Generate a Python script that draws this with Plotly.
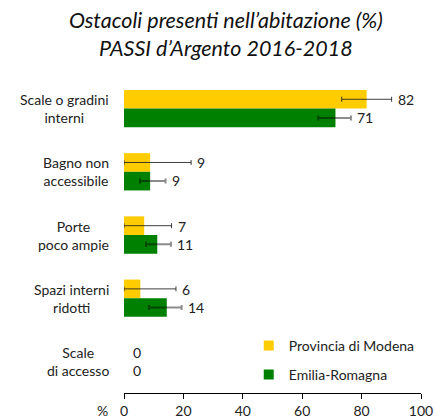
import plotly.graph_objects as go

categories = ["Scale o gradini<br>interni", "Bagno non<br>accessibile", "Porte<br>poco ampie",
              "Spazi interni<br>ridotti", "Scale<br>di accesso"]
series_names = ["Provincia di Modena", "Emilia-Romagna"]

modena_values = [81.7, 8.8, 6.8, 5.5, 0]
modena_low = [73.3, 0, 0, 0, 0]
modena_high = [90.1, 22.6, 16.0, 17.5, 0]

emilia_values = [71.2, 8.8, 11.2, 14.4, 0]
emilia_low = [65.4, 5.4, 7.4, 8.4, 0]
emilia_high = [76.4, 14.0, 15.8, 19.4, 0]

x_ticks = [0, 20, 40, 60, 80, 100]

FONT = "Lato"
YELLOW = "#FFCC00"
GREEN = "#008000"

fig = go.Figure()

def add_series(name, vals, low, high, color, err_color, err_width):
    plus = [h - v for v, h in zip(vals, high)]
    minus = [v - l for v, l in zip(vals, low)]
    # empty (zero) bars are not drawn, so no stray error-bar caps appear at 0
    shown = [v if (v > 0 or h > l) else None for v, l, h in zip(vals, low, high)]
    fig.add_trace(go.Bar(
        y=categories, x=shown, orientation="h", name=name, showlegend=False,
        marker=dict(color=color, line=dict(width=0)),
        error_x=dict(type="data", array=plus, arrayminus=minus, symmetric=False,
                     color=err_color, thickness=err_width, width=2.5),
    ))

add_series(series_names[0], modena_values, modena_low, modena_high, YELLOW,
           "rgba(30,30,30,0.85)", 1)
add_series(series_names[1], emilia_values, emilia_low, emilia_high, GREEN,
           "rgba(0,0,0,0.45)", 2)

# legend entries (small square symbols)
for name, color, grp in [(series_names[0], YELLOW, "a"), (series_names[1], GREEN, "b")]:
    fig.add_trace(go.Scatter(
        x=[None], y=[None], mode="markers", name=name, legendgroup=grp,
        marker=dict(symbol="square", size=10, color=color),
    ))

annotations = []
# category labels
for cat in categories:
    annotations.append(dict(
        x=0, xref="paper", y=cat, yref="y", text=cat, showarrow=False,
        xanchor="right", align="center", xshift=-13,
        font=dict(family=FONT, size=14, color="#222222"),
    ))

# value labels
for vals, high, ysh in [(modena_values, modena_high, 9), (emilia_values, emilia_high, -9)]:
    for cat, v, h in zip(categories, vals, high):
        annotations.append(dict(
            x=max(h, v), xref="x", y=cat, yref="y", yshift=ysh,
            text=str(int(round(v))), showarrow=False, xanchor="left",
            xshift=4 if h > 0 else 7,
            font=dict(family=FONT, size=14, color="#222222"),
        ))

annotations.append(dict(
    x=0, xref="paper", y=0, yref="paper", text="%", showarrow=False,
    xanchor="right", yanchor="top", xshift=-14, yshift=-7,
    font=dict(family=FONT, size=14, color="#222222"),
))

fig.update_layout(
    width=436, height=420,
    margin=dict(l=124, r=15, t=77, b=27, autoexpand=False),
    paper_bgcolor="white", plot_bgcolor="white",
    barmode="group", bargap=0.41, bargroupgap=0,
    title=dict(
        text="Ostacoli presenti nell’abitazione (%)<br>PASSI d’Argento 2016-2018",
        x=0.518, xanchor="center", xref="container",
        y=1 - 28 / 420, yanchor="middle", yref="container",
        font=dict(family=FONT, size=21.5, color="#111111", style="italic"),
    ),
    xaxis=dict(
        range=[0, 100], tickvals=x_ticks, ticktext=[str(t) for t in x_ticks],
        showgrid=False, zeroline=False, showline=True, linecolor="black", linewidth=1,
        ticks="outside", ticklen=5, tickcolor="black",
        tickfont=dict(family=FONT, size=14, color="#222222"),
    ),
    yaxis=dict(
        autorange="reversed", showticklabels=False, showgrid=False, zeroline=False,
        showline=False, ticks="",
    ),
    showlegend=True,
    legend=dict(
        x=0.42, xanchor="left", y=0.2, yanchor="top", bgcolor="rgba(0,0,0,0)",
        traceorder="grouped", tracegroupgap=8,
        font=dict(family=FONT, size=14, color="#222222"),
        itemwidth=30,
    ),
    annotations=annotations,
)

fig.write_html("out.html", config={"displayModeBar": False},
               post_script="document.body.style.margin='0';")
